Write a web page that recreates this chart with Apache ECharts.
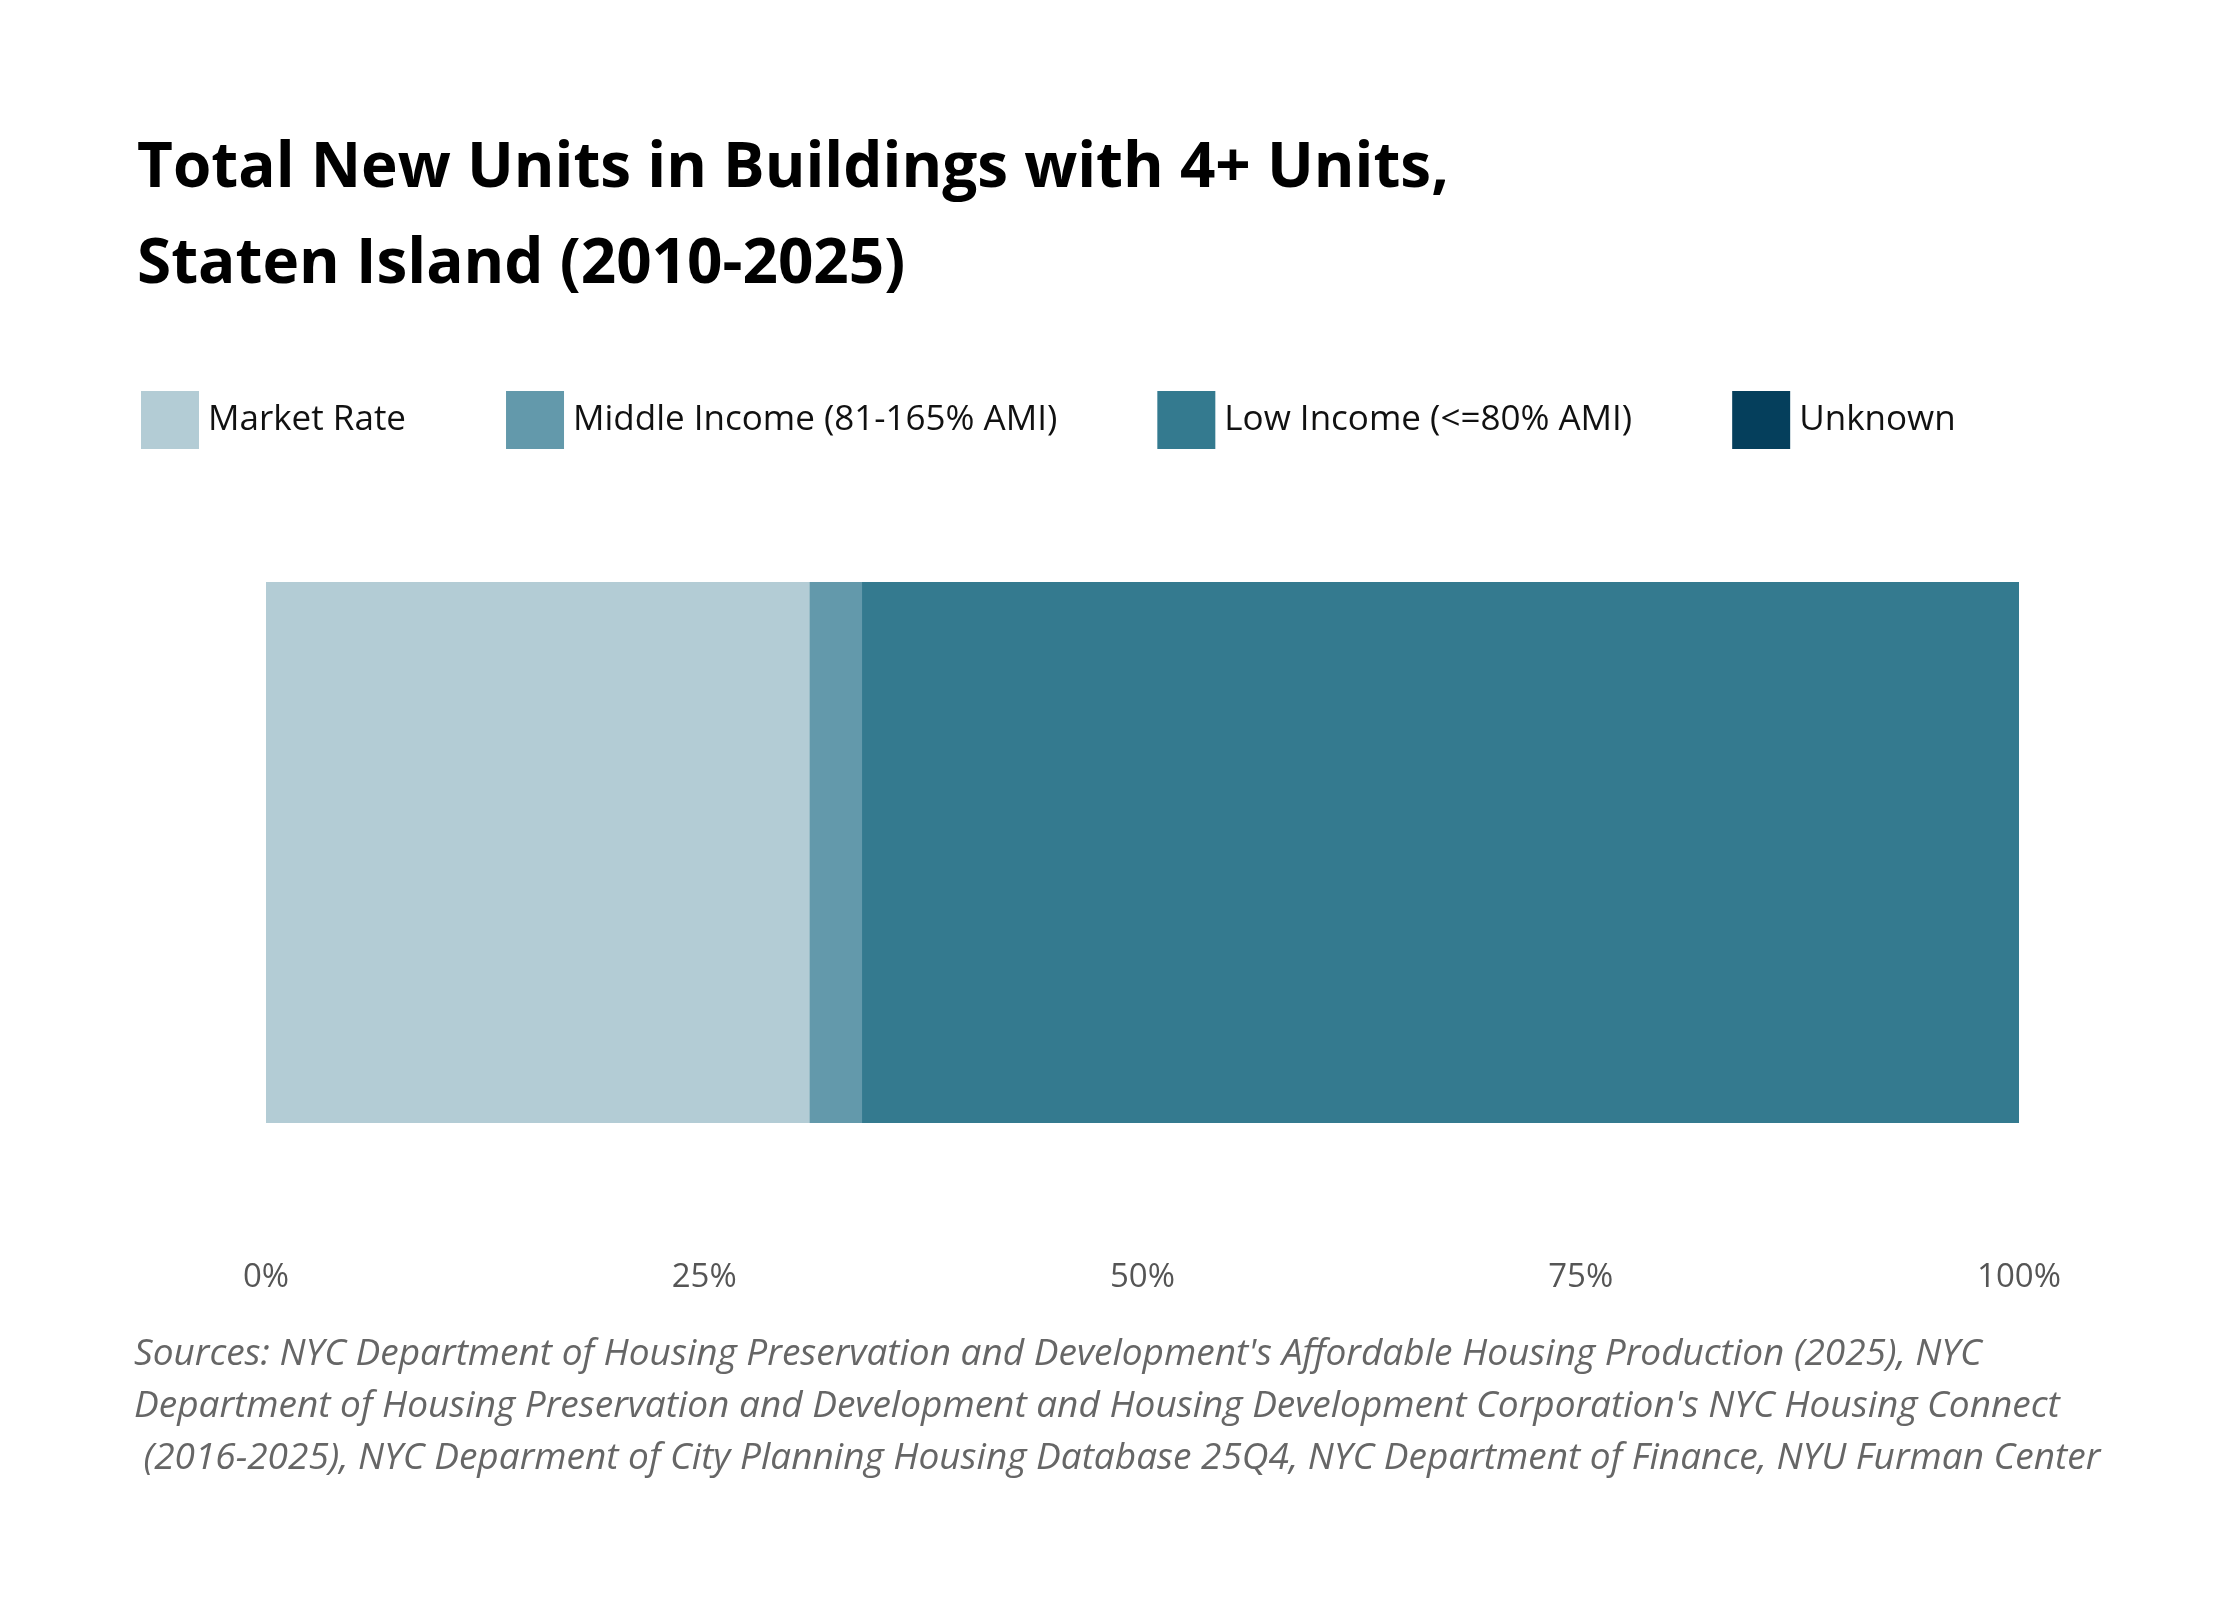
<!DOCTYPE html>
<html>
<head>
<meta charset="utf-8">
<script src="https://cdn.jsdelivr.net/npm/echarts@6/dist/echarts.min.js"></script>
<style>
  html, body { margin: 0; padding: 0; background: #fff; }
  #chart { width: 2240px; height: 1600px; }
</style>
</head>
<body>
<div id="chart"></div>
<script>
const categories = ['Staten Island'];
const seriesNames = ['Market Rate', 'Middle Income (81-165% AMI)', 'Low Income (<=80% AMI)', 'Unknown'];
const seriesValues = [[31.0], [3.0], [66.0], [0.0]];
const colors = ['#b3ccd5', '#6399ab', '#347a8f', '#053f5c'];
const sourceLines = [
  "Sources: NYC Department of Housing Preservation and Development's Affordable Housing Production (2025), NYC",
  "Department of Housing Preservation and Development and Housing Development Corporation's NYC Housing Connect",
  " (2016-2025), NYC Deparment of City Planning Housing Database 25Q4, NYC Department of Finance, NYU Furman Center"
];

const chart = echarts.init(document.getElementById('chart'));
const font = "'Open Sans', 'Noto Sans', sans-serif";

chart.setOption({
  animation: false,
  color: colors,
  title: {
    text: 'Total New Units in Buildings with 4+ Units,\nStaten Island (2010-2025)',
    left: 132, top: 116,
    textStyle: { fontFamily: font, fontSize: 62, fontWeight: 'bold', color: '#000', lineHeight: 96 }
  },
  legend: {
    left: 136, top: 386,
    itemWidth: 58, itemHeight: 58, itemGap: 100,
    icon: 'rect',
    data: seriesNames,
    textStyle: { fontFamily: font, fontSize: 35, color: '#111', padding: [0, 0, 0, 4] }
  },
  grid: { left: 266, right: 221, top: 582, bottom: 477 },
  xAxis: {
    type: 'value', min: 0, max: 100, interval: 25,
    axisLine: { show: false }, axisTick: { show: false }, splitLine: { show: false },
    axisLabel: { formatter: '{value}%', margin: 138, fontFamily: font, fontSize: 33, color: '#555' }
  },
  yAxis: { type: 'category', data: categories, show: false },
  series: seriesNames.map((name, i) => ({
    name, type: 'bar', stack: 'total', barWidth: '100%',
    data: seriesValues[i]
  })),
  graphic: [{
    type: 'text', left: 134, top: 1328,
    style: {
      text: sourceLines.join('\n'),
      font: "italic 37px 'Open Sans', sans-serif",
      fill: '#666', lineHeight: 52
    }
  }]
});
</script>
</body>
</html>
